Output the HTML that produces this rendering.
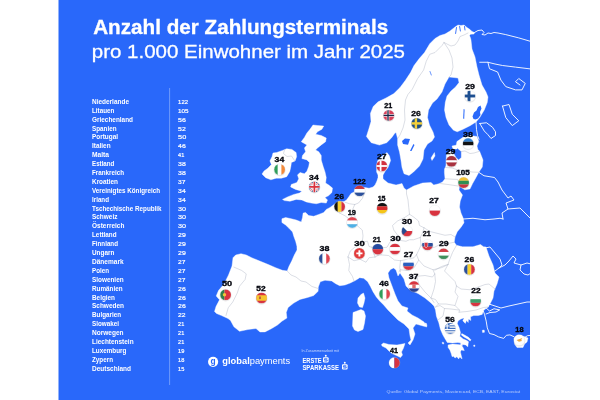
<!DOCTYPE html><html lang="de"><head><meta charset="utf-8"><title>Anzahl der Zahlungsterminals pro 1.000 Einwohner im Jahr 2025</title>
<style>html,body{margin:0;padding:0;background:#fff}body{width:600px;height:400px;overflow:hidden;position:relative}svg{position:absolute;left:0;top:0;display:block;will-change:transform}text{font-family:"Liberation Sans",Arial,Helvetica,sans-serif}.t1{font-weight:700;fill:#fff}.t2{fill:#fff}.nm{font-weight:700;fill:#fff;font-size:6.4px}.vl{fill:#fff;font-size:6.2px;stroke:#fff;stroke-width:.2px}.lb{font-weight:700;fill:#05070f;stroke:#05070f;stroke-width:.36px;font-size:8.1px}</style></head><body>
<svg width="600" height="400" viewBox="0 0 600 400">
<rect x="58.5" y="0" width="471.5" height="400" fill="#2968fa"/>
<clipPath id="panel"><rect x="58.5" y="0" width="471.5" height="400"/></clipPath>
<g style="filter:blur(.3px)">
<g clip-path="url(#panel)">
<g fill="none" stroke="#fff" stroke-width=".9" stroke-linejoin="round" stroke-linecap="round">
<polyline points="474.5,32.5 478,30.5 482,30 484,32.5 482,34.5 485,35 488,33 491,33.5 494,32.5 498,33 505.75,34.6 518.75,37.9 531,41.5"/>
<polyline points="479.75,62.25 487.9,62.25 495,64 502.5,65.5 515.5,67.1 531,69"/>
<polyline points="487.9,62.25 489.5,68.75 497.6,72 500.9,80.1 505.75,86.6 515.5,89.9 522,89.9 525.25,83.4 518.75,78.5 515.5,81.75 520,85"/>
<polyline points="479.75,123.5 486.5,122.75 492.5,127.25 495.5,131.75 495.5,135.5 491,138.5 488,134.75 484.25,131 479.75,123.5"/>
<polyline points="502.5,106.1 509,104.5 512.25,114.25 518.75,120.75 512.25,125.6 505.75,117.5 502.5,106.1"/>
<polyline points="476,122 476.5,129.5 477.5,135.5 479,139.25"/>
<polyline points="478.8,172.3 484,175.75 494.5,177.5 498,182 502,190 508,198 511,196 514,200 506,203 508,209 502,213 503,219"/>
<polyline points="463.5,219 473,218.25 485,219.75 494,219 500,218.25 503,219"/>
<polyline points="508,209 520,208 526,214 531,219"/>
<polyline points="485,248 490,247 495,253 500,259 502,265 499,268 495,271"/>
<polyline points="499,268 505,265 509,261 513,256 516,259 514,263 521,265 527,263 531,264"/>
<polyline points="521,265 520,270 524,274 528,275 531,273"/>
<polyline points="488,307 489,304 495,306 501,308 509,306 518,304 527,302 531,302"/>
<polyline points="483.3,311 484.5,314.4 486.2,321.1 487.3,327.9 489.5,333.5 494,334.6 498.5,336.9 503.7,338.4 506.4,335.3 509.9,334.9 513.8,336.6"/>
<polyline points="524.7,337.5 527.4,335.7 531,335.3"/>
<polyline points="485,307 489.5,311 494,308.75 499.7,309.9 496,312 490,312.5 486,314"/>
</g>
<g fill="#fff" stroke="#fff" stroke-width=".4" stroke-linejoin="round">
<polygon points="366.4,136.5 368.8,129 371,121.6 370.4,113.4 373.2,106.5 378.1,101.8 386,98 393.9,93.6 400,87.5 405.25,80.5 410.5,72.6 414,65.6 419.25,58.6 424.5,52.5 429.75,43.75 435,38.5 440,35.5 445,34 450,31 455,27 458,25 461,25.5 464,25 467,27.5 470,29.5 472,31.5 474.5,32.5 474,34 470.5,34.2 469.5,35.5 470.5,38 471,40 472,49 475,57 477,67 479,75 482,85 486,92 488,97 487.25,102.5 484.25,110 479.75,117.5 476,122 470,125.75 462.5,129.5 457.25,131.75 453.5,130.25 449,125 446,117.5 444.5,110 445.25,102.5 447,96 451,91 455.5,87 459,82.5 458,78 449,77 445,84 442,92 437,99 432.5,103 428.5,110 427.5,117.5 429.5,125 433,132 434.5,137 432,141 427.5,144 424,150 423,159 419.5,166 413.5,172 409,175.5 404,173.7 402,167.5 401,160.5 399.5,152 397.6,145 397.6,138.6 396,132.5 394.8,133.2 391.6,137.8 386.7,142.7 379.4,145.1 371.25,142.7"/>
<polygon points="376.6,166 377.5,161 381,157 387,152.6 389.5,156 390.6,160.5 388,167.5 385,171.5 383,175 383,181 378,181 378,175 376.6,172"/>
<polygon points="378,178 376.5,182 375,185 373,187 369,188.2 365,187.5 360,188.5 354,192 351,193.5 349,196.5 346.5,200 344,201.5 338,202 334,204.5 330,207.5 326.25,209.4 323.75,212.5 318.75,214.4 313.75,216.25 308.75,215.6 305.6,212.5 303.1,213.1 302.5,217.5 301.25,221.9 296.25,220 291.25,218.75 285.6,217.5 281.9,218.75 281.9,222.5 285.6,225 288.75,228.1 292.5,231.9 293.75,236.25 295.6,241.25 296.9,246.25 297,250 294.3,255 291.7,261 289,266.3 287.2,271 282.3,270.3 275.7,267.7 267.7,264.3 259.7,261 251.7,257.7 246.3,255 241,253.7 235.7,255 233,257.7 232,266 228.5,275 224,284 218.5,290.5 216.2,296 219.5,299.75 216,306.5 214.5,311.5 216.5,313.5 221.5,315.6 228,318.5 230.5,320.5 233.9,326.8 239.5,331.3 248,329.5 256,328.5 260,332 265,331.9 271.25,328.75 277.5,325 281.9,321.25 286.9,318.1 286.25,312.5 288.1,307.5 293.75,303.1 300,299.4 307.5,297.5 313.75,295.6 318.1,291.25 318.3,287 320.3,281.7 325,280.3 331.7,281 335.7,283.7 339.7,285.7 345,285 350.3,283 355.7,280.3 359.7,277.7 363.7,278.3 367.7,281.7 370.3,286.3 373,291.7 376.3,297 379.7,301 383.7,305 388,310 392,314 398,320 404,324 409,329 410,336 411,340 408,343 410,345 413,340 415,334 413,328 416,324 423,326 427,327 424,322 418,318 412,315 407,311 408,308 402,306 398,301 395,294 392,286 389,278 388,273 390.5,269.5 393.5,268 396,270 398,276 400,273 404,279 406,286 410,290 418,293.5 425,298 431,303 434,306 435.5,310 436.4,316.25 438.8,322.75 440.4,329.25 442.9,335 445.5,339.6 447.25,342.4 452.5,342.9 457.75,342.5 461.25,343.1 462.8,344.4 465.6,344.9 467.8,346.8 468.25,343.1 468.6,341.8 466.8,340.6 463.2,338.9 459.8,336.2 460.5,332.5 459.1,327.6 457.3,323.6 458,321 460.5,319.2 464.2,317.75 462.8,320.8 465.3,323.4 466.5,320.5 468.2,322.5 468.5,319 470.8,320.5 470.5,316.8 473.8,315.5 478.3,315.5 482.2,314.4 483.3,311 484,310 488,307 490,304 493,298 494,291 497,284 499,277 495,273 493,265 489,256 486,247 483.5,246.75 480.5,244.5 473,246.75 462.5,246.75 456.5,245.25 454.25,242.25 455,237 457.25,231.75 461,227.25 464,222.75 463.25,218.25 461,213 459.5,207 460.25,201 462.5,195 459,190 459.5,186.5 464.8,189.8 470,188.9 472.6,183.6 476,177.5 478.8,172.3 482.3,167 483,160 479.6,151.3 477.9,149.5 477,146 478.8,141.6 477,136.4 470,135.5 463,137.3 456.9,141.6 456,146.9 459.5,150 461.3,151.5 461.3,157.4 458.6,160 456,157.4 453.4,153 449.9,151.3 446.4,154.8 445.9,166 444.5,169 444.4,172.5 445,178.75 442.5,182 438.75,183.75 433.75,185 431,182.5 422.5,183 413.75,186 406.5,190 404,188 402,183.5 396,185 388,183 382,178"/>
<polygon points="448.1,344.9 452.5,344.1 457.75,344.5 461.25,345 463,347.5 464.3,350.6 461.25,350.1 460.4,351.9 461.25,355.4 462.1,358.9 459.9,357.1 458.6,358.9 456.9,356.7 455.1,358 453.4,356.25 452.1,356.7 451.2,353.6 449.9,350.1 448.1,347.5"/>
<polygon points="460.8,342.8 462.6,343.6 462.4,345.6 460.6,345.2"/>
<polygon points="461.8,333.6 465,335.3 468.5,337.3 471,339.8 470.2,340.9 467.5,338.9 464,336.9 461.3,334.9"/>
<polygon points="473.8,345 475,345.2 474.8,346.5 473.6,346.2"/>
<polygon points="425,323 426.5,323.5 427,326 425.5,325.5"/>
<polygon points="442.2,342.2 443.6,342.4 443.8,344 442.4,343.8"/>
<polygon points="482.3,330.3 484.2,330 484.5,332.2 482.6,332.6"/>
<polygon points="313,125 317.5,125.5 323.75,126.1 321.9,129.25 317.5,131.75 315.6,134.25 321.25,135.5 326.25,138 325.6,141.75 321.25,144.9 317.5,148 315.6,149.9 318.75,151.75 321.25,155.5 321.25,160 323.1,166.25 325,171.9 326.25,177.5 325.6,183.1 328.75,185 332.5,188.1 331.9,192.5 328.75,195.6 325,197.5 327.5,200 326.25,203.1 321.25,202.5 316.25,203.75 311.25,203.1 306.25,201.9 301.9,200 296.25,199.4 290,201.25 284.4,200.6 282.5,199.4 287.5,196.9 293.75,194.4 299.4,193.1 301.9,191.25 295.6,189.4 290.6,186.9 291.25,184.4 296.9,182.5 298.75,178.75 297.5,175 300,172.5 304.4,173.75 306.9,171.25 308.75,166.25 309.4,162.4 306.9,159.9 301.9,158.6 302.5,155.5 305.6,151.75 304.4,148 306.9,144.9 301.25,141.75 304.4,137.4 306.9,133 310,129.25"/>
<polygon points="273,153 276.7,152.5 282.5,150.4 286.7,148.8 291.9,149.4 296.1,152.5 296.6,156.7 295.1,160.9 291.4,162.5 290.9,166.2 289.8,171.4 286.7,176.7 281.4,178.2 276.2,178.2 270.9,179.8 265.7,177.7 262,174 264.1,170.9 267.8,168.3 271.4,164.6 269.9,160.9 272,156.7"/>
<polygon points="361,294.5 363.5,293 365,298 364,303 362.5,307.5 359.5,307 357.5,303 358,298"/>
<polygon points="353,312.5 357,311 361,309.5 364,311 365.5,316 364.5,323 363,329.5 358,331.5 354.5,330 352.5,326 352.8,319"/>
<polygon points="381.5,344.5 383.5,343 389,344.5 397,345 405,343.5 403.5,348 401.5,352 402.5,355 400.5,357.5 397.5,356 392,353.5 389,351 386,348 382,346"/>
<polygon points="514,338 518,335 524,336.5 528,338 527,342 524.5,344 523,347.5 517,347.5 514.5,344"/>
<polygon points="434.4,152.6 435,156 432,160.5 431,158"/>
<polygon points="452,146 457,145 457,149 453,149"/>
</g>
<g fill="#2968fa">
<polygon points="402,141 405,138.6 410,139 408,144.8 403,144"/>
<polygon points="413.4,144 414.5,145 411.5,151 410,151"/>
<polygon points="472.5,116.5 474,112.5 476.5,110.5 478,107 480.5,105.5 481.5,108.5 480,112 480.5,115 478,118.5 475.5,119.5 473.5,119"/>
<polygon points="463.6,109 464.6,109.5 464.2,119 463.2,118.5"/>
</g>
<g fill="none" stroke="#2968fa" stroke-width=".9" stroke-linecap="round"><path d="M456.5 27.5L455.6 33.5M459.6 26.5L460.4 31M464.5 26.5L465 30"/><path d="M430 71.5L431.3 75" stroke-width=".7"/></g>
<g fill="none" stroke="#b7bccb" stroke-width=".5" stroke-linejoin="round" stroke-linecap="round">
<polyline points="233.9,267.1 241.75,270.5 246.25,273.9 245.1,279.5 239.5,286.25 237.25,293 232.75,302 228.25,307.7 226,315.5"/>
<polyline points="287.2,271 291,275 296,277 301,281 306,282 312,286.5 318.2,288.5"/>
<polyline points="444,42.5 442,45.5 435,52.5 429.75,54.25 426.25,61.25 423.6,70 417.5,78.75 412.25,89.25 407.9,94.5 405.5,100 404.5,110 405,120 403,128 400,135 397.6,138.6"/>
<polyline points="468,33 464,35 460,36.5 458,41 455,45 451,46 447,44 444,42.5"/>
<polyline points="444,42.5 449,50 452,58 453,67 451,75 449,77"/>
<polyline points="364.5,193.25 362.25,198.5 358.5,203 354.75,204.5"/>
<polyline points="345,202.25 349.5,203.75 354.75,204.5"/>
<polyline points="354.75,204.5 352.5,209.75 354,214"/>
<polyline points="334.5,205.25 339,212.75 345,215.75 348,218 350,222"/>
<polyline points="354,214 350,218 350,222 353,225.5 357,225.5 356,219 354,214"/>
<polyline points="357,225.5 362.25,230 363,236 362.25,242"/>
<polyline points="362.25,242 367.5,241.25 369,246.5 372,247.25"/>
<polyline points="406.5,190 406.5,194 408,200 408.75,207.5 409.5,214.25"/>
<polyline points="409.5,214.25 405,217.25 397.5,221 392.5,225.5 393.75,230 398.25,236 400.5,239.75"/>
<polyline points="409.5,214.25 414,217.25 418.5,221 419.5,225.5 424,227.75"/>
<polyline points="424,227.75 422.5,233 420.25,237.5"/>
<polyline points="420.25,237.5 413.5,239.75 409.5,239.75 406,241.25 400.5,240.5"/>
<polyline points="372,247.25 379.5,248 387,247.25 390,242 394.5,239 400.5,240.5"/>
<polyline points="424,227.75 430,231.5 436,233 445,235.25 451,234.5 455,237"/>
<polyline points="420.25,237.5 421,245 425.5,248.75 434.5,247.25 440.5,244.25 448,243.5 454.25,242.25"/>
<polyline points="421,245 418.75,250.25 416.5,254.75"/>
<polyline points="416.5,254.75 414,257.75 408,259.25 400.5,260.75"/>
<polyline points="400.5,260.75 394.5,260 388.5,255.5 379.5,254.75 375,257"/>
<polyline points="372,247.25 373.5,252.5 375,257"/>
<polyline points="375,257 369,257.75 366,262.25 360,259.25 354,260.75 348,257"/>
<polyline points="348,257 350.25,251 354.75,247.25 362.25,242"/>
<polyline points="348,257 349.5,264.5 348.75,270.5 352.5,276.5 354,281"/>
<polyline points="400.5,260.75 399.75,267.5 400.5,272"/>
<polyline points="399,272 400,269.75 407.5,270.5 414.25,267.5 418.75,260 416.5,254.75"/>
<polyline points="418.75,260 424,266 433,269.75 442,267.5 448,264.5"/>
<polyline points="456.5,245.25 452.5,252.5 449.5,260 448,264.5"/>
<polyline points="409.5,277 416.75,276.25 425,275.5 432.5,277 434.75,274"/>
<polyline points="416.75,276.25 419,284.5 425,292 431,298 434,302.5"/>
<polyline points="433,269.75 434.75,274"/>
<polyline points="434.75,270.25 441.5,266.5 448,264.5"/>
<polyline points="448,264.5 444.5,271 450.5,277 455,281.5 456.5,286"/>
<polyline points="456.5,286 455,292 458,296.5 456.5,301 455,305.5"/>
<polyline points="434.75,274 435.5,281.5 434,289 431,298"/>
<polyline points="431,298 435.5,299.5 438.5,304 435.5,307"/>
<polyline points="438.5,304 446,304 455,305.5 459.5,310"/>
<polyline points="435.5,307 440,305.5 444.5,308.5 443,316 438,320"/>
<polyline points="444.5,308.5 451,309 456.7,309.75 459.5,310 459.1,312.2"/>
<polyline points="456.5,286 461,289 470,289.75 479,286.75 485,284.5 489,284 495,289"/>
<polyline points="459.1,312.2 467,311.5 476,310 483.5,307.5 488,307"/>
<polyline points="445.5,167.5 452,168 458,170 465,170.5 472,172 478.8,172.3"/>
<polyline points="461.3,151.5 465,151 470,153.5 474,153 479.6,151.3"/>
<polyline points="445,178.75 452,179.2 457.5,179.4 459,183 459.5,186.5"/>
<polyline points="440,183.5 448,184.5 458,186"/>
<polyline points="284.5,150 283.5,153.5 287,156.5 291.5,156 294.5,160.5"/>
</g>
<clipPath id="cno"><circle cx="388.8" cy="115.4" r="5.5"/></clipPath><circle cx="388.8" cy="116.1" r="6" fill="#000" opacity=".08"/><g clip-path="url(#cno)"><rect x="383.3" y="109.9" width="11" height="11" fill="#d8405a"/><rect x="383.3" y="114.15" width="11" height="2.5" fill="#fff"/><rect x="386.75" y="109.9" width="2.5" height="11" fill="#fff"/><rect x="383.3" y="114.75" width="11" height="1.3" fill="#1a2345"/><rect x="387.35" y="109.9" width="1.3" height="11" fill="#1a2345"/></g><circle cx="388.8" cy="115.4" r="5.5" fill="none" stroke="#dfe1ea" stroke-width=".4" opacity=".6"/>
<clipPath id="cse"><circle cx="416.8" cy="123.4" r="5.5"/></clipPath><circle cx="416.8" cy="124.1" r="6" fill="#000" opacity=".08"/><g clip-path="url(#cse)"><rect x="411.3" y="117.9" width="11" height="11" fill="#1d4f85"/><rect x="411.3" y="122.2" width="11" height="2.4" fill="#f2cf3a"/><rect x="414.7" y="117.9" width="2.4" height="11" fill="#f2cf3a"/></g><circle cx="416.8" cy="123.4" r="5.5" fill="none" stroke="#dfe1ea" stroke-width=".4" opacity=".6"/>
<clipPath id="cfi"><circle cx="470" cy="96" r="5.5"/></clipPath><circle cx="470" cy="96.7" r="6" fill="#000" opacity=".08"/><g clip-path="url(#cfi)"><rect x="464.5" y="90.5" width="11" height="11" fill="#fff"/><rect x="464.5" y="94.55" width="11" height="2.9" fill="#1d4f91"/><rect x="467.55" y="90.5" width="2.9" height="11" fill="#1d4f91"/></g><circle cx="470" cy="96" r="5.5" fill="none" stroke="#dfe1ea" stroke-width=".4" opacity=".6"/>
<clipPath id="cee"><circle cx="468.2" cy="143.6" r="5.5"/></clipPath><circle cx="468.2" cy="144.3" r="6" fill="#000" opacity=".08"/><g clip-path="url(#cee)"><rect x="462.7" y="138.1" width="11" height="3.71667" fill="#2f7fd0"/><rect x="462.7" y="141.767" width="11" height="3.71667" fill="#111"/><rect x="462.7" y="145.433" width="11" height="3.71667" fill="#fff"/></g><circle cx="468.2" cy="143.6" r="5.5" fill="none" stroke="#dfe1ea" stroke-width=".4" opacity=".6"/>
<clipPath id="clv"><circle cx="451.5" cy="161.3" r="5.5"/></clipPath><circle cx="451.5" cy="162" r="6" fill="#000" opacity=".08"/><g clip-path="url(#clv)"><rect x="446" y="155.8" width="11" height="11" fill="#a8323f"/><rect x="446" y="160.2" width="11" height="2.2" fill="#fff"/></g><circle cx="451.5" cy="161.3" r="5.5" fill="none" stroke="#dfe1ea" stroke-width=".4" opacity=".6"/>
<clipPath id="clt"><circle cx="463.6" cy="182.6" r="5.5"/></clipPath><circle cx="463.6" cy="183.3" r="6" fill="#000" opacity=".08"/><g clip-path="url(#clt)"><rect x="458.1" y="177.1" width="11" height="3.71667" fill="#f3c033"/><rect x="458.1" y="180.767" width="11" height="3.71667" fill="#2f8f53"/><rect x="458.1" y="184.433" width="11" height="3.71667" fill="#c8353d"/></g><circle cx="463.6" cy="182.6" r="5.5" fill="none" stroke="#dfe1ea" stroke-width=".4" opacity=".6"/>
<clipPath id="cdk"><circle cx="381.8" cy="166" r="5.5"/></clipPath><circle cx="381.8" cy="166.7" r="6" fill="#000" opacity=".08"/><g clip-path="url(#cdk)"><rect x="376.3" y="160.5" width="11" height="11" fill="#d3313f"/><rect x="376.3" y="165.1" width="11" height="1.8" fill="#fff"/><rect x="379.7" y="160.5" width="1.8" height="11" fill="#fff"/></g><circle cx="381.8" cy="166" r="5.5" fill="none" stroke="#dfe1ea" stroke-width=".4" opacity=".6"/>
<clipPath id="cie"><circle cx="279.6" cy="169.5" r="5.5"/></clipPath><circle cx="279.6" cy="170.2" r="6" fill="#000" opacity=".08"/><g clip-path="url(#cie)"><rect x="274.1" y="164" width="3.71667" height="11" fill="#2f9e5b"/><rect x="277.767" y="164" width="3.71667" height="11" fill="#fff"/><rect x="281.433" y="164" width="3.71667" height="11" fill="#f28a3a"/></g><circle cx="279.6" cy="169.5" r="5.5" fill="none" stroke="#dfe1ea" stroke-width=".4" opacity=".6"/>
<clipPath id="cgb"><circle cx="314.4" cy="186.9" r="5.5"/></clipPath><circle cx="314.4" cy="187.6" r="6" fill="#000" opacity=".08"/><g clip-path="url(#cgb)"><rect x="308.9" y="181.4" width="11" height="11" fill="#27407f"/><path d="M308.9 181.4L319.9 192.4M319.9 181.4L308.9 192.4" stroke="#fff" stroke-width="2.2"/><path d="M308.9 181.4L319.9 192.4M319.9 181.4L308.9 192.4" stroke="#d8333f" stroke-width="0.8"/><path d="M314.4 181.4V192.4M308.9 186.9H319.9" stroke="#fff" stroke-width="3.4"/><path d="M314.4 181.4V192.4M308.9 186.9H319.9" stroke="#d8333f" stroke-width="1.8"/></g><circle cx="314.4" cy="186.9" r="5.5" fill="none" stroke="#dfe1ea" stroke-width=".4" opacity=".6"/>
<clipPath id="cnl"><circle cx="359.6" cy="190.8" r="5.5"/></clipPath><circle cx="359.6" cy="191.5" r="6" fill="#000" opacity=".08"/><g clip-path="url(#cnl)"><rect x="354.1" y="185.3" width="11" height="3.71667" fill="#c8353d"/><rect x="354.1" y="188.967" width="11" height="3.71667" fill="#fff"/><rect x="354.1" y="192.633" width="11" height="3.71667" fill="#2b4f9a"/></g><circle cx="359.6" cy="190.8" r="5.5" fill="none" stroke="#dfe1ea" stroke-width=".4" opacity=".6"/>
<clipPath id="cbe"><circle cx="339.6" cy="206.6" r="5.5"/></clipPath><circle cx="339.6" cy="207.3" r="6" fill="#000" opacity=".08"/><g clip-path="url(#cbe)"><rect x="334.1" y="201.1" width="3.71667" height="11" fill="#111"/><rect x="337.767" y="201.1" width="3.71667" height="11" fill="#f6cf2e"/><rect x="341.433" y="201.1" width="3.71667" height="11" fill="#d8333f"/></g><circle cx="339.6" cy="206.6" r="5.5" fill="none" stroke="#dfe1ea" stroke-width=".4" opacity=".6"/>
<clipPath id="cde"><circle cx="382.2" cy="208.2" r="5.5"/></clipPath><circle cx="382.2" cy="208.9" r="6" fill="#000" opacity=".08"/><g clip-path="url(#cde)"><rect x="376.7" y="202.7" width="11" height="3.71667" fill="#111"/><rect x="376.7" y="206.367" width="11" height="3.71667" fill="#d62d2d"/><rect x="376.7" y="210.033" width="11" height="3.71667" fill="#f5c518"/></g><circle cx="382.2" cy="208.2" r="5.5" fill="none" stroke="#dfe1ea" stroke-width=".4" opacity=".6"/>
<clipPath id="cpl"><circle cx="434.8" cy="210.6" r="5.5"/></clipPath><circle cx="434.8" cy="211.3" r="6" fill="#000" opacity=".08"/><g clip-path="url(#cpl)"><rect x="429.3" y="205.1" width="11" height="5.55" fill="#fff"/><rect x="429.3" y="210.6" width="11" height="5.55" fill="#d8333f"/></g><circle cx="434.8" cy="210.6" r="5.5" fill="none" stroke="#dfe1ea" stroke-width=".4" opacity=".6"/>
<clipPath id="clu"><circle cx="352.2" cy="222.4" r="5.5"/></clipPath><circle cx="352.2" cy="223.1" r="6" fill="#000" opacity=".08"/><g clip-path="url(#clu)"><rect x="346.7" y="216.9" width="11" height="3.71667" fill="#e0444f"/><rect x="346.7" y="220.567" width="11" height="3.71667" fill="#fff"/><rect x="346.7" y="224.233" width="11" height="3.71667" fill="#4fb0e6"/></g><circle cx="352.2" cy="222.4" r="5.5" fill="none" stroke="#dfe1ea" stroke-width=".4" opacity=".6"/>
<clipPath id="ccz"><circle cx="407" cy="231" r="5.5"/></clipPath><circle cx="407" cy="231.7" r="6" fill="#000" opacity=".08"/><g clip-path="url(#ccz)"><rect x="401.5" y="225.5" width="11" height="5.55" fill="#fff"/><rect x="401.5" y="231" width="11" height="5.55" fill="#d8333f"/><path d="M401.5 225.5L407 231L401.5 236.5Z" fill="#274b8f"/></g><circle cx="407" cy="231" r="5.5" fill="none" stroke="#dfe1ea" stroke-width=".4" opacity=".6"/>
<clipPath id="csk"><circle cx="427.5" cy="244.8" r="5.5"/></clipPath><circle cx="427.5" cy="245.5" r="6" fill="#000" opacity=".08"/><g clip-path="url(#csk)"><rect x="422" y="239.3" width="11" height="3.71667" fill="#fff"/><rect x="422" y="242.967" width="11" height="3.71667" fill="#2b4f9a"/><rect x="422" y="246.633" width="11" height="3.71667" fill="#d8333f"/><path d="M424.3 242.4h3.6v2.6q0 2-1.8 2.8q-1.8-.8-1.8-2.8z" fill="#d8333f" stroke="#fff" stroke-width=".5"/></g><circle cx="427.5" cy="244.8" r="5.5" fill="none" stroke="#dfe1ea" stroke-width=".4" opacity=".6"/>
<clipPath id="chu"><circle cx="443.6" cy="253.8" r="5.5"/></clipPath><circle cx="443.6" cy="254.5" r="6" fill="#000" opacity=".08"/><g clip-path="url(#chu)"><rect x="438.1" y="248.3" width="11" height="3.71667" fill="#d23d45"/><rect x="438.1" y="251.967" width="11" height="3.71667" fill="#fff"/><rect x="438.1" y="255.633" width="11" height="3.71667" fill="#3f8f5b"/></g><circle cx="443.6" cy="253.8" r="5.5" fill="none" stroke="#dfe1ea" stroke-width=".4" opacity=".6"/>
<clipPath id="cat"><circle cx="395" cy="249" r="5.5"/></clipPath><circle cx="395" cy="249.7" r="6" fill="#000" opacity=".08"/><g clip-path="url(#cat)"><rect x="389.5" y="243.5" width="11" height="3.71667" fill="#d8333f"/><rect x="389.5" y="247.167" width="11" height="3.71667" fill="#fff"/><rect x="389.5" y="250.833" width="11" height="3.71667" fill="#d8333f"/></g><circle cx="395" cy="249" r="5.5" fill="none" stroke="#dfe1ea" stroke-width=".4" opacity=".6"/>
<clipPath id="cli"><circle cx="377.8" cy="249.2" r="5.5"/></clipPath><circle cx="377.8" cy="249.9" r="6" fill="#000" opacity=".08"/><g clip-path="url(#cli)"><rect x="372.3" y="243.7" width="11" height="5.55" fill="#274b9f"/><rect x="372.3" y="249.2" width="11" height="5.55" fill="#d8333f"/></g><circle cx="377.8" cy="249.2" r="5.5" fill="none" stroke="#dfe1ea" stroke-width=".4" opacity=".6"/>
<clipPath id="cch"><circle cx="359.4" cy="253.4" r="5.5"/></clipPath><circle cx="359.4" cy="254.1" r="6" fill="#000" opacity=".08"/><g clip-path="url(#cch)"><rect x="353.9" y="247.9" width="11" height="11" fill="#e23b3b"/><path d="M359.4 250.3v6.2M356.3 253.4h6.2" stroke="#fff" stroke-width="1.9"/></g><circle cx="359.4" cy="253.4" r="5.5" fill="none" stroke="#dfe1ea" stroke-width=".4" opacity=".6"/>
<clipPath id="cfr"><circle cx="324.4" cy="258.6" r="5.5"/></clipPath><circle cx="324.4" cy="259.3" r="6" fill="#000" opacity=".08"/><g clip-path="url(#cfr)"><rect x="318.9" y="253.1" width="3.71667" height="11" fill="#2b4f9a"/><rect x="322.567" y="253.1" width="3.71667" height="11" fill="#fff"/><rect x="326.233" y="253.1" width="3.71667" height="11" fill="#e0444f"/></g><circle cx="324.4" cy="258.6" r="5.5" fill="none" stroke="#dfe1ea" stroke-width=".4" opacity=".6"/>
<clipPath id="csi"><circle cx="408.5" cy="264.5" r="5.5"/></clipPath><circle cx="408.5" cy="265.2" r="6" fill="#000" opacity=".08"/><g clip-path="url(#csi)"><rect x="403" y="259" width="11" height="3.71667" fill="#fff"/><rect x="403" y="262.667" width="11" height="3.71667" fill="#2b5fc0"/><rect x="403" y="266.333" width="11" height="3.71667" fill="#d8333f"/></g><circle cx="408.5" cy="264.5" r="5.5" fill="none" stroke="#dfe1ea" stroke-width=".4" opacity=".6"/>
<clipPath id="chr"><circle cx="414" cy="286.6" r="5.5"/></clipPath><circle cx="414" cy="287.3" r="6" fill="#000" opacity=".08"/><g clip-path="url(#chr)"><rect x="408.5" y="281.1" width="11" height="3.71667" fill="#d8333f"/><rect x="408.5" y="284.767" width="11" height="3.71667" fill="#fff"/><rect x="408.5" y="288.433" width="11" height="3.71667" fill="#2b3f8f"/><rect x="412.3" y="284.4" width="3.4" height="3.8" fill="#e06a6a"/></g><circle cx="414" cy="286.6" r="5.5" fill="none" stroke="#dfe1ea" stroke-width=".4" opacity=".6"/>
<clipPath id="cit"><circle cx="384.6" cy="294" r="5.5"/></clipPath><circle cx="384.6" cy="294.7" r="6" fill="#000" opacity=".08"/><g clip-path="url(#cit)"><rect x="379.1" y="288.5" width="3.71667" height="11" fill="#2f9e5b"/><rect x="382.767" y="288.5" width="3.71667" height="11" fill="#fff"/><rect x="386.433" y="288.5" width="3.71667" height="11" fill="#e0444f"/></g><circle cx="384.6" cy="294" r="5.5" fill="none" stroke="#dfe1ea" stroke-width=".4" opacity=".6"/>
<clipPath id="cro"><circle cx="469.4" cy="269.4" r="5.5"/></clipPath><circle cx="469.4" cy="270.1" r="6" fill="#000" opacity=".08"/><g clip-path="url(#cro)"><rect x="463.9" y="263.9" width="3.71667" height="11" fill="#2b4f9a"/><rect x="467.567" y="263.9" width="3.71667" height="11" fill="#f6cf2e"/><rect x="471.233" y="263.9" width="3.71667" height="11" fill="#d8333f"/></g><circle cx="469.4" cy="269.4" r="5.5" fill="none" stroke="#dfe1ea" stroke-width=".4" opacity=".6"/>
<clipPath id="cbg"><circle cx="475.6" cy="301" r="5.5"/></clipPath><circle cx="475.6" cy="301.7" r="6" fill="#000" opacity=".08"/><g clip-path="url(#cbg)"><rect x="470.1" y="295.5" width="11" height="3.71667" fill="#fff"/><rect x="470.1" y="299.167" width="11" height="3.71667" fill="#3f9f6b"/><rect x="470.1" y="302.833" width="11" height="3.71667" fill="#d8333f"/></g><circle cx="475.6" cy="301" r="5.5" fill="none" stroke="#dfe1ea" stroke-width=".4" opacity=".6"/>
<clipPath id="cgr"><circle cx="450.2" cy="328.4" r="5.5"/></clipPath><circle cx="450.2" cy="329.1" r="6" fill="#000" opacity=".08"/><g clip-path="url(#cgr)"><rect x="444.7" y="322.9" width="11" height="1.27222" fill="#3f6fc0"/><rect x="444.7" y="324.122" width="11" height="1.27222" fill="#fff"/><rect x="444.7" y="325.344" width="11" height="1.27222" fill="#3f6fc0"/><rect x="444.7" y="326.567" width="11" height="1.27222" fill="#fff"/><rect x="444.7" y="327.789" width="11" height="1.27222" fill="#3f6fc0"/><rect x="444.7" y="329.011" width="11" height="1.27222" fill="#fff"/><rect x="444.7" y="330.233" width="11" height="1.27222" fill="#3f6fc0"/><rect x="444.7" y="331.456" width="11" height="1.27222" fill="#fff"/><rect x="444.7" y="332.678" width="11" height="1.27222" fill="#3f6fc0"/><rect x="444.7" y="322.9" width="4.95" height="6.11111" fill="#3f6fc0"/><path d="M447.175 322.9v6.11111M444.7 325.956h4.95" stroke="#fff" stroke-width="1"/></g><circle cx="450.2" cy="328.4" r="5.5" fill="none" stroke="#dfe1ea" stroke-width=".4" opacity=".6"/>
<clipPath id="cpt"><circle cx="225.6" cy="294.8" r="5.5"/></clipPath><circle cx="225.6" cy="295.5" r="6" fill="#000" opacity=".08"/><g clip-path="url(#cpt)"><rect x="220.1" y="289.3" width="4.4" height="11" fill="#2f7f4b"/><rect x="224.5" y="289.3" width="6.6" height="11" fill="#d8333f"/><circle cx="224.5" cy="294.8" r="1.7" fill="#f2c43a"/></g><circle cx="225.6" cy="294.8" r="5.5" fill="none" stroke="#dfe1ea" stroke-width=".4" opacity=".6"/>
<clipPath id="ces"><circle cx="261.6" cy="298" r="5.5"/></clipPath><circle cx="261.6" cy="298.7" r="6" fill="#000" opacity=".08"/><g clip-path="url(#ces)"><rect x="256.1" y="292.5" width="11" height="11" fill="#d8333f"/><rect x="256.1" y="295.25" width="11" height="5.5" fill="#f6c52e"/><rect x="259" y="296.5" width="2" height="2.6" fill="#c0653a"/></g><circle cx="261.6" cy="298" r="5.5" fill="none" stroke="#dfe1ea" stroke-width=".4" opacity=".6"/>
<clipPath id="cmt"><circle cx="394.4" cy="362.8" r="5.5"/></clipPath><circle cx="394.4" cy="363.5" r="6" fill="#000" opacity=".08"/><g clip-path="url(#cmt)"><rect x="388.9" y="357.3" width="5.55" height="11" fill="#fff"/><rect x="394.4" y="357.3" width="5.55" height="11" fill="#d8333f"/></g><circle cx="394.4" cy="362.8" r="5.5" fill="none" stroke="#dfe1ea" stroke-width=".4" opacity=".6"/>
<clipPath id="ccy"><circle cx="519.3" cy="340.1" r="5.5"/></clipPath><circle cx="519.3" cy="340.8" r="6" fill="#000" opacity=".08"/><g clip-path="url(#ccy)"><rect x="513.8" y="334.6" width="11" height="11" fill="#fff"/><path d="M516.5 339.9l2.4-.6 3.4-1.2-1 1.6 .6 1.2-3 .8z" fill="#e8a84a"/></g><circle cx="519.3" cy="340.1" r="5.5" fill="none" stroke="#dfe1ea" stroke-width=".4" opacity=".6"/>
<text class="lb" x="384.20" y="108.40" textLength="8.00" lengthAdjust="spacingAndGlyphs">21</text>
<text class="lb" x="411.20" y="115.90" textLength="9.60" lengthAdjust="spacingAndGlyphs">26</text>
<text class="lb" x="465.15" y="88.50" textLength="9.70" lengthAdjust="spacingAndGlyphs">29</text>
<text class="lb" x="462.95" y="136.90" textLength="9.90" lengthAdjust="spacingAndGlyphs">38</text>
<text class="lb" x="445.75" y="153.90" textLength="9.70" lengthAdjust="spacingAndGlyphs">29</text>
<text class="lb" x="456.25" y="175.30" textLength="13.50" lengthAdjust="spacingAndGlyphs">105</text>
<text class="lb" x="377.05" y="158.50" textLength="9.50" lengthAdjust="spacingAndGlyphs">27</text>
<text class="lb" x="274.60" y="161.80" textLength="9.60" lengthAdjust="spacingAndGlyphs">34</text>
<text class="lb" x="309.10" y="179.60" textLength="9.60" lengthAdjust="spacingAndGlyphs">34</text>
<text class="lb" x="353.15" y="183.70" textLength="12.70" lengthAdjust="spacingAndGlyphs">122</text>
<text class="lb" x="334.40" y="198.50" textLength="9.60" lengthAdjust="spacingAndGlyphs">26</text>
<text class="lb" x="377.65" y="200.70" textLength="7.90" lengthAdjust="spacingAndGlyphs">15</text>
<text class="lb" x="429.25" y="203.30" textLength="9.50" lengthAdjust="spacingAndGlyphs">27</text>
<text class="lb" x="347.65" y="214.90" textLength="8.30" lengthAdjust="spacingAndGlyphs">19</text>
<text class="lb" x="401.75" y="223.50" textLength="10.50" lengthAdjust="spacingAndGlyphs">30</text>
<text class="lb" x="422.80" y="235.90" textLength="8.00" lengthAdjust="spacingAndGlyphs">21</text>
<text class="lb" x="438.95" y="245.90" textLength="9.70" lengthAdjust="spacingAndGlyphs">29</text>
<text class="lb" x="390.35" y="240.90" textLength="10.50" lengthAdjust="spacingAndGlyphs">30</text>
<text class="lb" x="372.80" y="241.70" textLength="8.00" lengthAdjust="spacingAndGlyphs">21</text>
<text class="lb" x="354.15" y="245.50" textLength="10.50" lengthAdjust="spacingAndGlyphs">30</text>
<text class="lb" x="319.45" y="251.30" textLength="9.90" lengthAdjust="spacingAndGlyphs">38</text>
<text class="lb" x="403.65" y="256.50" textLength="9.50" lengthAdjust="spacingAndGlyphs">27</text>
<text class="lb" x="408.65" y="278.70" textLength="9.70" lengthAdjust="spacingAndGlyphs">37</text>
<text class="lb" x="379.20" y="285.90" textLength="9.60" lengthAdjust="spacingAndGlyphs">46</text>
<text class="lb" x="464.60" y="261.90" textLength="9.60" lengthAdjust="spacingAndGlyphs">26</text>
<text class="lb" x="471.30" y="292.90" textLength="9.40" lengthAdjust="spacingAndGlyphs">22</text>
<text class="lb" x="445.25" y="321.70" textLength="9.50" lengthAdjust="spacingAndGlyphs">56</text>
<text class="lb" x="222.00" y="286.30" textLength="10.20" lengthAdjust="spacingAndGlyphs">50</text>
<text class="lb" x="256.35" y="290.90" textLength="9.30" lengthAdjust="spacingAndGlyphs">52</text>
<text class="lb" x="390.00" y="353.40" textLength="8.00" lengthAdjust="spacingAndGlyphs">41</text>
<text class="lb" x="515.35" y="332.10" textLength="8.30" lengthAdjust="spacingAndGlyphs">18</text>
</g>
<text class="t1" x="93.2" y="33.8" font-size="19.4" textLength="295" lengthAdjust="spacingAndGlyphs" stroke="#fff" stroke-width=".3">Anzahl der Zahlungsterminals</text>
<text class="t2" x="91.8" y="58.2" font-size="18.6" textLength="313.2" lengthAdjust="spacingAndGlyphs" stroke="#fff" stroke-width=".3">pro 1.000 Einwohner im Jahr 2025</text>
<line x1="169.6" y1="88" x2="169.6" y2="385" stroke="#8db0fc" stroke-width=".7"/>
<text class="nm" x="92" y="103.85" textLength="37" lengthAdjust="spacingAndGlyphs">Niederlande</text><text class="vl" x="178.1" y="103.85" textLength="9.90" lengthAdjust="spacingAndGlyphs">122</text>
<text class="nm" x="92" y="112.74" textLength="22.4" lengthAdjust="spacingAndGlyphs">Litauen</text><text class="vl" x="178.1" y="112.74" textLength="10.50" lengthAdjust="spacingAndGlyphs">105</text>
<text class="nm" x="92" y="121.64" textLength="41" lengthAdjust="spacingAndGlyphs">Griechenland</text><text class="vl" x="178.1" y="121.64" textLength="7.80" lengthAdjust="spacingAndGlyphs">56</text>
<text class="nm" x="92" y="130.53" textLength="24.6" lengthAdjust="spacingAndGlyphs">Spanien</text><text class="vl" x="178.1" y="130.53" textLength="7.65" lengthAdjust="spacingAndGlyphs">52</text>
<text class="nm" x="92" y="139.42" textLength="26" lengthAdjust="spacingAndGlyphs">Portugal</text><text class="vl" x="178.1" y="139.42" textLength="8.10" lengthAdjust="spacingAndGlyphs">50</text>
<text class="nm" x="92" y="148.31" textLength="18.6" lengthAdjust="spacingAndGlyphs">Italien</text><text class="vl" x="178.1" y="148.31" textLength="7.70" lengthAdjust="spacingAndGlyphs">46</text>
<text class="nm" x="92" y="157.21" textLength="17" lengthAdjust="spacingAndGlyphs">Malta</text><text class="vl" x="178.1" y="157.21" textLength="6.20" lengthAdjust="spacingAndGlyphs">41</text>
<text class="nm" x="92" y="166.10" textLength="22.4" lengthAdjust="spacingAndGlyphs">Estland</text><text class="vl" x="178.1" y="166.10" textLength="7.70" lengthAdjust="spacingAndGlyphs">38</text>
<text class="nm" x="92" y="174.99" textLength="32" lengthAdjust="spacingAndGlyphs">Frankreich</text><text class="vl" x="178.1" y="174.99" textLength="7.70" lengthAdjust="spacingAndGlyphs">38</text>
<text class="nm" x="92" y="183.89" textLength="26" lengthAdjust="spacingAndGlyphs">Kroatien</text><text class="vl" x="178.1" y="183.89" textLength="7.40" lengthAdjust="spacingAndGlyphs">37</text>
<text class="nm" x="92" y="192.78" textLength="68" lengthAdjust="spacingAndGlyphs">Vereinigtes Königreich</text><text class="vl" x="178.1" y="192.78" textLength="7.60" lengthAdjust="spacingAndGlyphs">34</text>
<text class="nm" x="92" y="201.67" textLength="17" lengthAdjust="spacingAndGlyphs">Irland</text><text class="vl" x="178.1" y="201.67" textLength="7.60" lengthAdjust="spacingAndGlyphs">34</text>
<text class="nm" x="92" y="210.57" textLength="69.6" lengthAdjust="spacingAndGlyphs">Tschechische Republik</text><text class="vl" x="178.1" y="210.57" textLength="8.00" lengthAdjust="spacingAndGlyphs">30</text>
<text class="nm" x="92" y="219.46" textLength="25.4" lengthAdjust="spacingAndGlyphs">Schweiz</text><text class="vl" x="178.1" y="219.46" textLength="8.00" lengthAdjust="spacingAndGlyphs">30</text>
<text class="nm" x="92" y="228.35" textLength="32.4" lengthAdjust="spacingAndGlyphs">Österreich</text><text class="vl" x="178.1" y="228.35" textLength="8.00" lengthAdjust="spacingAndGlyphs">30</text>
<text class="nm" x="92" y="237.25" textLength="24.6" lengthAdjust="spacingAndGlyphs">Lettland</text><text class="vl" x="178.1" y="237.25" textLength="7.65" lengthAdjust="spacingAndGlyphs">29</text>
<text class="nm" x="92" y="246.14" textLength="26" lengthAdjust="spacingAndGlyphs">Finnland</text><text class="vl" x="178.1" y="246.14" textLength="7.65" lengthAdjust="spacingAndGlyphs">29</text>
<text class="nm" x="92" y="255.03" textLength="22.4" lengthAdjust="spacingAndGlyphs">Ungarn</text><text class="vl" x="178.1" y="255.03" textLength="7.65" lengthAdjust="spacingAndGlyphs">29</text>
<text class="nm" x="92" y="263.92" textLength="31.6" lengthAdjust="spacingAndGlyphs">Dänemark</text><text class="vl" x="178.1" y="263.92" textLength="7.35" lengthAdjust="spacingAndGlyphs">27</text>
<text class="nm" x="92" y="272.82" textLength="17" lengthAdjust="spacingAndGlyphs">Polen</text><text class="vl" x="178.1" y="272.82" textLength="7.35" lengthAdjust="spacingAndGlyphs">27</text>
<text class="nm" x="92" y="281.71" textLength="31.6" lengthAdjust="spacingAndGlyphs">Slowenien</text><text class="vl" x="178.1" y="281.71" textLength="7.35" lengthAdjust="spacingAndGlyphs">27</text>
<text class="nm" x="92" y="290.60" textLength="30.6" lengthAdjust="spacingAndGlyphs">Rumänien</text><text class="vl" x="178.1" y="290.60" textLength="7.65" lengthAdjust="spacingAndGlyphs">26</text>
<text class="nm" x="92" y="299.50" textLength="23" lengthAdjust="spacingAndGlyphs">Belgien</text><text class="vl" x="178.1" y="299.50" textLength="7.65" lengthAdjust="spacingAndGlyphs">26</text>
<text class="nm" x="92" y="308.39" textLength="32" lengthAdjust="spacingAndGlyphs">Schweden</text><text class="vl" x="178.1" y="308.39" textLength="7.65" lengthAdjust="spacingAndGlyphs">26</text>
<text class="nm" x="92" y="317.28" textLength="29" lengthAdjust="spacingAndGlyphs">Bulgarien</text><text class="vl" x="178.1" y="317.28" textLength="7.50" lengthAdjust="spacingAndGlyphs">22</text>
<text class="nm" x="92" y="326.18" textLength="27" lengthAdjust="spacingAndGlyphs">Slowakei</text><text class="vl" x="178.1" y="326.18" textLength="6.15" lengthAdjust="spacingAndGlyphs">21</text>
<text class="nm" x="92" y="335.07" textLength="31.6" lengthAdjust="spacingAndGlyphs">Norwegen</text><text class="vl" x="178.1" y="335.07" textLength="6.15" lengthAdjust="spacingAndGlyphs">21</text>
<text class="nm" x="92" y="343.96" textLength="41.6" lengthAdjust="spacingAndGlyphs">Liechtenstein</text><text class="vl" x="178.1" y="343.96" textLength="6.15" lengthAdjust="spacingAndGlyphs">21</text>
<text class="nm" x="92" y="352.85" textLength="34.4" lengthAdjust="spacingAndGlyphs">Luxemburg</text><text class="vl" x="178.1" y="352.85" textLength="6.30" lengthAdjust="spacingAndGlyphs">19</text>
<text class="nm" x="92" y="361.75" textLength="21" lengthAdjust="spacingAndGlyphs">Zypern</text><text class="vl" x="178.1" y="361.75" textLength="6.30" lengthAdjust="spacingAndGlyphs">18</text>
<text class="nm" x="92" y="370.64" textLength="39" lengthAdjust="spacingAndGlyphs">Deutschland</text><text class="vl" x="178.1" y="370.64" textLength="6.30" lengthAdjust="spacingAndGlyphs">15</text>
<circle cx="213.1" cy="361.8" r="5.1" fill="#fff"/><text x="213.1" y="364.4" font-size="8.4" font-weight="700" fill="#2968fa" text-anchor="middle">g</text><text x="222.3" y="364.3" font-size="9.5" fill="#fff" textLength="67.8" lengthAdjust="spacingAndGlyphs"><tspan font-weight="700">global</tspan>payments</text><text x="301.5" y="351.6" font-size="3.6" fill="#c9d8fb" textLength="37.5" lengthAdjust="spacingAndGlyphs">In Zusammenarbeit mit</text><text x="302.4" y="362.5" font-size="7" font-weight="700" fill="#fff" textLength="19.2" lengthAdjust="spacingAndGlyphs">ERSTE</text><rect x="323" y="357.14" width="5.6" height="5.46" rx="1.008" fill="#fff"/><circle cx="325.8" cy="355.736" r="0.952" fill="#fff"/><path d="M327.368 358.778H324.4V359.87H327.2V361.071H324.232" fill="none" stroke="#2968fa" stroke-width="0.896"/><text x="302.4" y="369.6" font-size="7" font-weight="700" fill="#fff" textLength="36.6" lengthAdjust="spacingAndGlyphs">SPARKASSE</text><rect x="342" y="364.14" width="5.6" height="5.46" rx="1.008" fill="#fff"/><circle cx="344.8" cy="362.736" r="0.952" fill="#fff"/><path d="M346.368 365.778H343.4V366.87H346.2V368.071H343.232" fill="none" stroke="#2968fa" stroke-width="0.896"/><text x="386.6" y="393" font-size="4.3" fill="#b9ccfa" textLength="133.5" lengthAdjust="spacingAndGlyphs">Quelle: Global Payments, Mastercard, ECB, EAST, Eurostat</text>
</g>
</svg></body></html>
